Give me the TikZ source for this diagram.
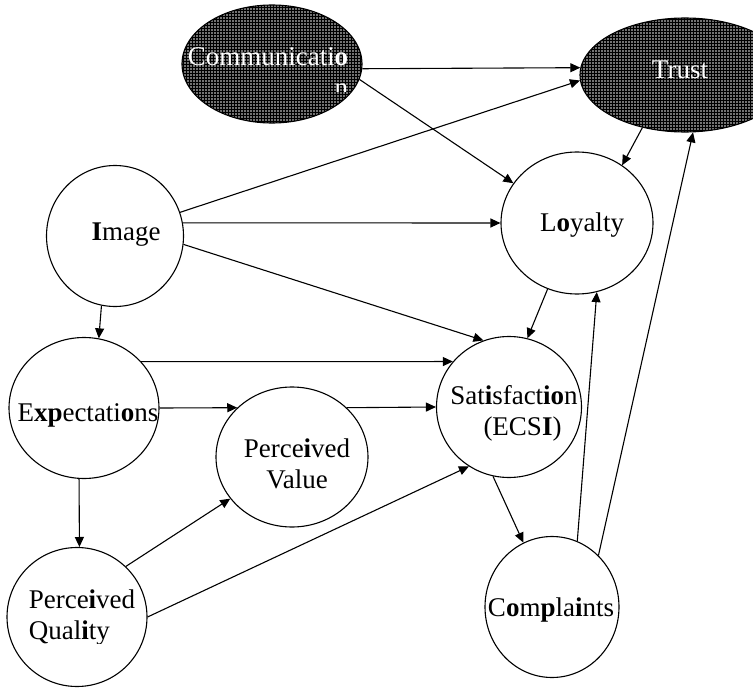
\documentclass[tikz,border=0pt]{standalone}
\usepackage{fontspec}
\setmainfont{Liberation Serif}
\usetikzlibrary{shapes.geometric,arrows.meta,patterns}

\tikzset{
  lv/.style={draw, ellipse, line width=1.1pt, inner sep=0pt},
  dark/.style={lv, preaction={fill=black!55}, pattern=grid, pattern color=black},
  txt/.style={font=\fontsize{27}{31}\selectfont, inner sep=0pt, align=center},
  arr/.style={line width=1.1pt, -{Triangle[length=10pt,width=9pt]}},
  every label/.style={txt}
}

% (name, x, y, width, height, label shift, text)
\newcommand{\factor}[7]{
    \node[lv, minimum width=#4, minimum height=#5,
      label={[#6]center:{#7}}] (#1) at (#2,#3) {};
}

\begin{document}
\begin{tikzpicture}[x=1pt, y=-1pt]
  \useasboundingbox (0,0) rectangle (753,688);

  \node[dark, minimum width=180pt, minimum height=118pt] (comm) at (272,64) {};
  \begin{scope}
    \clip (0,0) rectangle (753,91);
    \node[txt, text=white, align=right] (commtext) at (268,72) {Communicati\textbf{o}\\n};
  \end{scope}
  \node[dark, minimum width=210pt, minimum height=114pt,
    label={[text=white, xshift=-5pt, yshift=5pt]center:Trust}] (trust) at (685,75) {};

  \factor{image}{115}{236}{137pt}{141pt}{xshift=11pt, yshift=1pt}{\textbf{I}mage}
  \factor{loyalty}{577}{223}{152pt}{142pt}{xshift=5pt, yshift=-2pt}{L\textbf{o}yalty}
  \factor{expect}{84}{408}{150pt}{141pt}{xshift=4pt, yshift=-7pt}{E\textbf{xp}ectati\textbf{o}ns}
  \factor{value}{292}{457}{152pt}{140pt}{xshift=5pt, yshift=-7pt}{Perce\textbf{i}ved\\Value}
  \factor{satisf}{509}{407}{145pt}{141pt}{xshift=5pt, yshift=-6pt}{Sat\textbf{i}sfact\textbf{io}n\\\hspace*{17pt}(ECS\textbf{I})}
  \factor{complain}{552}{607}{134pt}{141pt}{xshift=-1pt, yshift=-3pt}{C\textbf{o}m\textbf{p}la\textbf{i}nts}

  \node[lv, minimum width=140pt, minimum height=139pt] (quality) at (77,617) {};
  \begin{scope}
    \clip (0,0) rectangle (753,643);
    \node[txt, align=left] (qualitytext) at (82,618) {Perce\textbf{i}ved\\Qual\textbf{i}ty};
  \end{scope}

  \draw[arr] (comm.-3) -- (trust.176);
  \draw[arr] (comm.-10) -- (loyalty.148);
  \draw[arr] (image.20) -- (trust.183);
  \draw[arr] (image.11) -- (loyalty.west);
  \draw[arr] (image.-7) -- (satisf.111);
  \draw[arr] (image.259) -- (expect.78);
  \draw[arr] (expect.39) -- (satisf.141);
  \draw[arr] (expect.east) -- (value.138);
  \draw[arr] (expect.266) -- (quality.88);
  \draw[arr] (value.42) -- (satisf.west);
  \draw[arr] (quality.46) -- (value.214);
  \draw[arr] (quality.east) -- (satisf.236);
  \draw[arr] (loyalty.246) -- (satisf.75);
  \draw[arr] (satisf.257) -- (complain.114);
  \draw[arr] (complain.69) -- (loyalty.286);
  \draw[arr] (complain.48) -- (trust.278);
  \draw[arr] (trust.231) -- (loyalty.52);

\end{tikzpicture}
\end{document}
